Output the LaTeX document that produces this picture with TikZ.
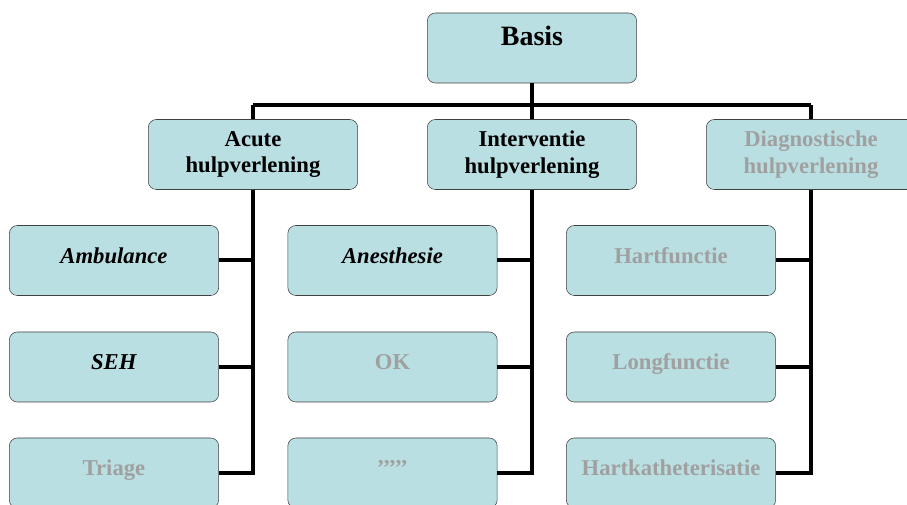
\documentclass[tikz,border=0pt]{standalone}
\usepackage{fontspec}
\setmainfont{Liberation Serif}[BoldFont={Liberation Serif Bold}, ItalicFont={Liberation Serif Italic}, BoldItalicFont={Liberation Serif Bold Italic}]
\definecolor{boxfill}{RGB}{185,223,226}
\definecolor{boxline}{RGB}{64,64,64}
\definecolor{dimtext}{RGB}{160,160,160}

\begin{document}
\begin{tikzpicture}[x=0.75pt, y=-0.75pt,
	box/.style={draw=boxline, fill=boxfill, rounded corners=6pt, minimum width=157pt, minimum height=52.5pt, inner sep=0pt, font=\rmfamily\bfseries\fontsize{17}{20}\selectfont},
	topbox/.style={box, font=\rmfamily\bfseries\fontsize{21}{25}\selectfont, text height=14pt, text depth=17pt},
	midbox/.style={box, align=center},
	leaf/.style={box, text height=12pt, text depth=8pt},
	dim/.style={text=dimtext},
	link/.style={line width=3pt}]
	\useasboundingbox (0,0) rectangle (907,505);
	\node[topbox] (basis) at (532,48) {Basis};
	\node[midbox] (acute) at (253,154.5) {Acute\\hulpverlening};
	\node[midbox] (interv) at (532,154.5) {Interventie\\hulpverlening};
	\node[midbox, dim] (diag) at (811,154.5) {Diagnostische\\hulpverlening};
	\node[leaf] (amb) at (114,260.5) {\textit{Ambulance}};
	\node[leaf] (seh) at (114,367) {\textit{SEH}};
	\node[leaf, dim] (triage) at (114,473) {Triage};
	\node[leaf] (anest) at (392.5,260.5) {\textit{Anesthesie}};
	\node[leaf, dim] (ok) at (392.5,367) {OK};
	\node[leaf, dim] (etc) at (392.5,473) {’’’’’};
	\node[leaf, dim] (hart) at (671,260.5) {Hartfunctie};
	\node[leaf, dim] (long) at (671,367) {Longfunctie};
	\node[leaf, dim] (kath) at (671,473) {Hartkatheterisatie};
	\coordinate (bus) at (532,105);
	\draw[link] (basis.south) -- (bus);
	\draw[link] (acute.north |- bus) -- (diag.north |- bus);
	\foreach \p in {acute,interv,diag} {\draw[link] (\p.north) -- (\p.north |- bus);}
	\foreach \p/\a/\b/\c in {acute/amb/seh/triage, interv/anest/ok/etc, diag/hart/long/kath} {
		\draw[link] (\p.south) |- (\c.east);
		\draw[link] (\a.east) -- (\a.east -| \p.south);
		\draw[link] (\b.east) -- (\b.east -| \p.south);
	}
\end{tikzpicture}
\end{document}
